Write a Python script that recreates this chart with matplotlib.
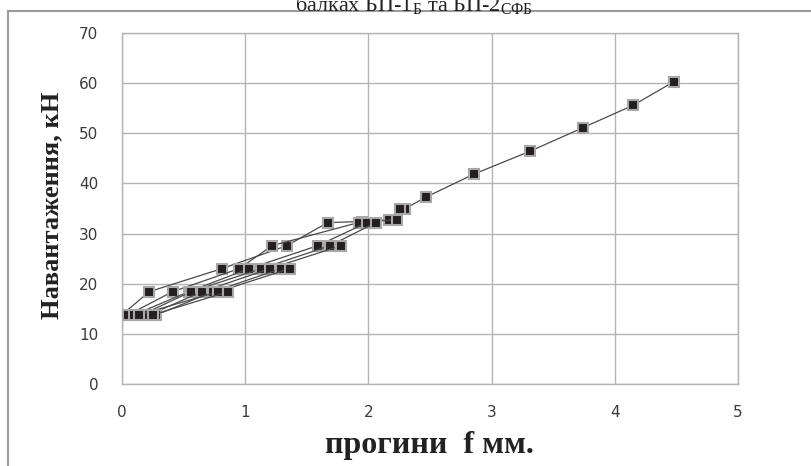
import matplotlib
matplotlib.use("Agg")
import matplotlib.pyplot as plt
from matplotlib.lines import Line2D

plt.rcParams['mathtext.fontset'] = 'custom'
plt.rcParams['mathtext.rm'] = 'Liberation Serif'

# ---- data: deflection f (mm) vs load (kN) for loading branches ----
s1_x = [0.00, 0.22, 0.81, 1.34, 1.67, 1.95, 2.17, 2.30, 2.47, 2.86, 3.31, 3.74, 4.15, 4.48]
s1_y = [13.8, 18.4, 23.0, 27.6, 32.2, 32.4, 32.8, 35.0, 37.3, 41.9, 46.4, 51.1, 55.6, 60.3]
s2_x = [0.05, 0.41, 0.95, 1.22, 1.92, 2.23, 2.26]
s2_y = [13.8, 18.4, 23.0, 27.6, 32.2, 32.8, 35.0]
s3_x = [0.10, 0.54, 1.03, 1.59, 1.99]
s3_y = [13.8, 18.4, 23.0, 27.6, 32.2]
s4_x = [0.16, 0.56, 1.13, 1.69, 2.06]
s4_y = [13.8, 18.4, 23.0, 27.6, 32.2]
s5_x = [0.22, 0.65, 1.20, 1.78]
s5_y = [13.8, 18.4, 23.0, 27.6]
s6_x = [0.28, 0.74, 1.29]
s6_y = [13.8, 18.4, 23.0]
s7_x = [0.14, 0.78, 1.36]
s7_y = [13.8, 18.4, 23.0]
s8_x = [0.25, 0.86]
s8_y = [13.8, 18.4]

series = [(s1_x, s1_y), (s2_x, s2_y), (s3_x, s3_y), (s4_x, s4_y),
          (s5_x, s5_y), (s6_x, s6_y), (s7_x, s7_y), (s8_x, s8_y)]

x_ticks = [0, 1, 2, 3, 4, 5]
y_ticks = [0, 10, 20, 30, 40, 50, 60, 70]

title_text = r"балках БП-1$_{\mathrm{Б}}$ та БП-2$_{\mathrm{СФБ}}$"
ylabel_text = "Навантаження, кН"
xlabel_text = "прогини  f мм."

W, H = 811, 466
fig = plt.figure(figsize=(W / 100, H / 100), dpi=100)
ax = fig.add_axes([122 / W, 1 - 384 / H, 616 / W, 351 / H])

for xs, ys in series:
    ax.plot(xs, ys, color='#4a4a4a', lw=0.9, marker='s', markersize=7.0,
            markerfacecolor='#231f20', markeredgecolor='#a8a8a8',
            markeredgewidth=1.5, zorder=3)

ax.set_xlim(0, 5)
ax.set_ylim(0, 70)
ax.set_xticks(x_ticks)
ax.set_yticks(y_ticks)
ax.grid(True, color='#b4b4b4', lw=1.0)
ax.set_axisbelow(True)
for sp in ax.spines.values():
    sp.set_color('#b4b4b4')
    sp.set_linewidth(1.0)
ax.tick_params(length=0, labelsize=11, labelcolor='#3a3a3a')
ax.tick_params(axis='y', pad=17)
ax.tick_params(axis='x', pad=15)

fig.text(52 / W, 1 - 205 / H, ylabel_text, rotation=90, ha='center', va='center',
         family='Liberation Serif', fontweight='bold', fontsize=19, color='#222222')
fig.text(429 / W, 1 - 453 / H, xlabel_text, ha='center', va='baseline',
         family='Liberation Serif', fontweight='bold', fontsize=23, color='#222222')
fig.text(414 / W, 1 - 11 / H, title_text, ha='center', va='baseline',
         family='Liberation Serif', fontsize=16, color='#222222')

# outer chart frame (top and left visible)
fig.add_artist(Line2D([8 / W, 8 / W], [0, 1 - 11 / H], transform=fig.transFigure,
                      color='#9a9a9a', lw=1.5))
fig.add_artist(Line2D([8 / W, 1], [1 - 11 / H, 1 - 11 / H], transform=fig.transFigure,
                      color='#9a9a9a', lw=1.5))

fig.savefig('out.png', dpi=100)
